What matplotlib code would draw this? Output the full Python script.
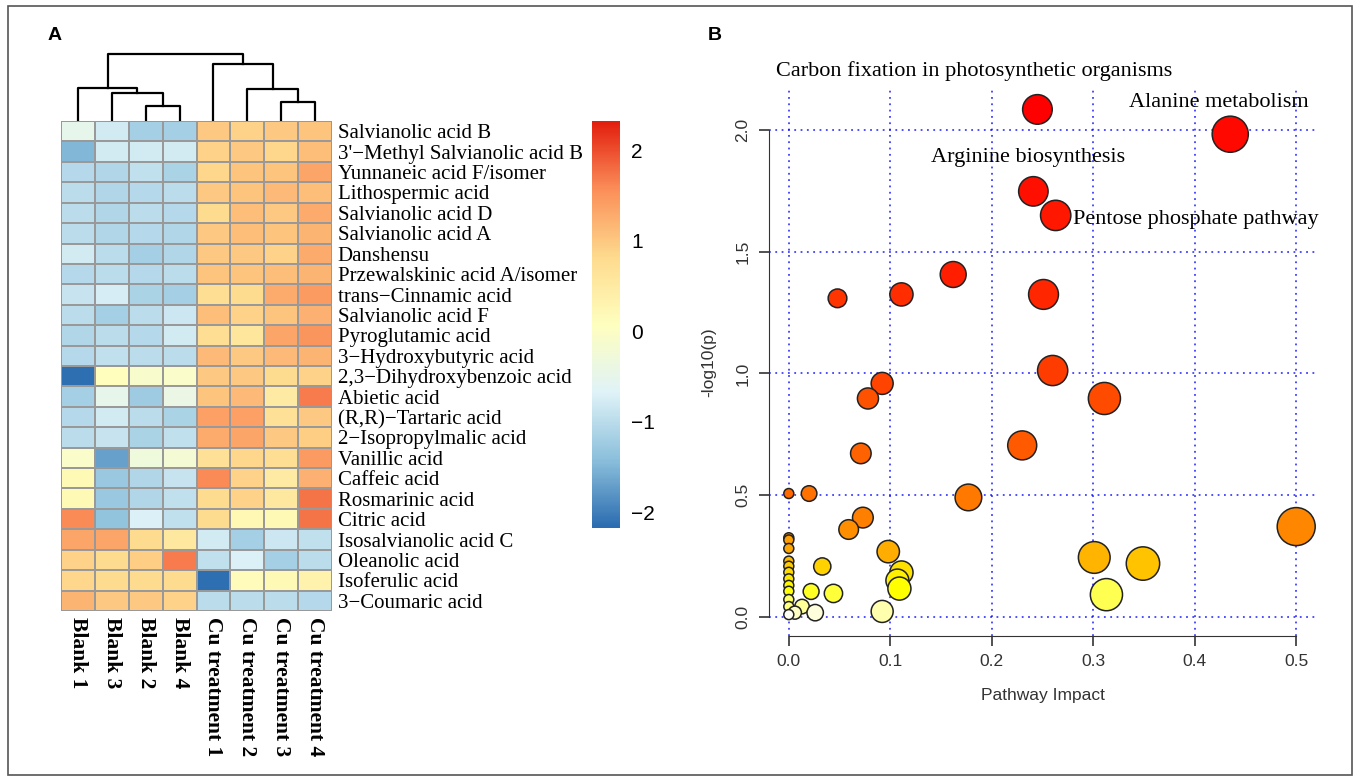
import numpy as np
import matplotlib
matplotlib.use("Agg")
import matplotlib.pyplot as plt
from matplotlib.colors import LinearSegmentedColormap, hsv_to_rgb
from matplotlib.patches import Rectangle

# ---- panel A data ----
compounds = ["Salvianolic acid B", "3'\u2212Methyl Salvianolic acid B", "Yunnaneic acid F/isomer",
             "Lithospermic acid", "Salvianolic acid D", "Salvianolic acid A", "Danshensu",
             "Przewalskinic acid A/isomer", "trans\u2212Cinnamic acid", "Salvianolic acid F",
             "Pyroglutamic acid", "3\u2212Hydroxybutyric acid", "2,3\u2212Dihydroxybenzoic acid",
             "Abietic acid", "(R,R)\u2212Tartaric acid", "2\u2212Isopropylmalic acid", "Vanillic acid",
             "Caffeic acid", "Rosmarinic acid", "Citric acid", "Isosalvianolic acid C",
             "Oleanolic acid", "Isoferulic acid", "3\u2212Coumaric acid"]
samples = ["Blank 1", "Blank 3", "Blank 2", "Blank 4",
           "Cu treatment 1", "Cu treatment 2", "Cu treatment 3", "Cu treatment 4"]
zscores = [
    [-0.5, -0.8, -1.2, -1.2, 1.0, 0.9, 1.0, 1.05],
    [-1.5, -0.8, -0.8, -0.8, 0.9, 1.0, 0.85, 1.1],
    [-1.05, -1.1, -0.95, -1.15, 0.85, 1.05, 1.05, 1.35],
    [-1.0, -1.1, -1.05, -1.0, 1.0, 1.05, 1.15, 1.1],
    [-1.0, -1.1, -1.0, -1.05, 0.8, 1.1, 1.0, 1.3],
    [-1.0, -1.1, -1.05, -1.1, 1.0, 1.1, 1.05, 1.2],
    [-0.8, -1.0, -1.2, -1.1, 1.0, 1.0, 0.9, 1.3],
    [-1.05, -1.0, -1.05, -1.0, 1.05, 1.05, 1.1, 1.2],
    [-0.9, -0.75, -1.15, -1.2, 0.75, 0.8, 1.3, 1.45],
    [-1.0, -1.2, -1.0, -0.85, 1.1, 0.9, 1.05, 1.25],
    [-1.1, -1.0, -1.05, -0.8, 0.75, 0.6, 1.35, 1.5],
    [-1.05, -0.95, -1.0, -1.0, 1.15, 1.0, 1.15, 1.2],
    [-2.15, 0.1, -0.1, -0.05, 1.0, 1.0, 0.8, 0.9],
    [-1.2, -0.5, -1.25, -0.4, 1.05, 1.15, 0.5, 1.7],
    [-1.05, -0.8, -1.0, -1.15, 1.4, 1.4, 0.7, 1.0],
    [-1.0, -0.9, -1.15, -0.95, 1.3, 1.35, 1.0, 0.95],
    [-0.05, -1.7, -0.3, -0.2, 0.7, 0.85, 0.75, 1.45],
    [0.2, -1.3, -1.1, -0.9, 1.6, 0.9, 0.5, 1.25],
    [0.2, -1.3, -1.1, -0.95, 0.8, 0.9, 0.55, 1.75],
    [1.6, -1.35, -0.7, -0.95, 0.8, 0.25, 0.2, 1.75],
    [1.35, 1.35, 0.8, 0.55, -0.8, -1.2, -0.85, -0.95],
    [0.9, 0.8, 0.95, 1.7, -0.95, -0.7, -1.2, -1.0],
    [0.85, 0.8, 0.8, 0.8, -2.15, 0.15, 0.2, 0.35],
    [1.2, 1.0, 1.0, 0.9, -1.0, -1.0, -1.0, -1.05],
]
# column dendrogram: (left node, right node, height); leaves 0-7, new nodes 8..
col_merges = [(2, 3, 15), (1, 8, 28), (0, 9, 33), (6, 7, 19), (5, 11, 32), (4, 12, 57), (10, 13, 67)]
cbar_ticks = [2, 1, 0, -1, -2]
vmin, vmax = -2.17, 2.32

# ---- panel B data ----
impact = [0.245, 0.435, 0.241, 0.263, 0.162, 0.251, 0.111, 0.048, 0.260, 0.092, 0.311, 0.078,
          0.230, 0.071, 0.0, 0.020, 0.177, 0.073, 0.500, 0.059, 0.0, 0.0, 0.0, 0.098, 0.301,
          0.349, 0.033, 0.0, 0.0, 0.0, 0.0, 0.0, 0.0, 0.0, 0.0, 0.0, 0.111, 0.107, 0.109,
          0.313, 0.022, 0.044, 0.013, 0.006, 0.026, 0.092]
neglogp = [2.086, 1.984, 1.749, 1.650, 1.407, 1.325, 1.325, 1.309, 1.012, 0.959, 0.897, 0.897,
           0.704, 0.671, 0.506, 0.506, 0.490, 0.407, 0.370, 0.358, 0.324, 0.315, 0.280, 0.267,
           0.243, 0.218, 0.206, 0.228, 0.207, 0.182, 0.155, 0.128, 0.104, 0.070, 0.041, 0.008,
           0.181, 0.148, 0.115, 0.090, 0.103, 0.095, 0.041, 0.016, 0.016, 0.021]
path_labels = ["Carbon fixation in photosynthetic organisms", "Alanine metabolism",
               "Arginine biosynthesis", "Pentose phosphate pathway"]
label_x = [0.183, 0.424, 0.236, 0.280]
label_y = [2.243, 2.115, 1.889, 1.634]
label_ha = ["center", "center", "center", "left"]

W, H = 1360, 781
SERIF = ["Liberation Serif", "DejaVu Serif"]
SANS = ["Liberation Sans", "DejaVu Sans"]


def px_axes(fig, x0, y0, x1, y1):
    return fig.add_axes([x0 / W, 1 - y1 / H, (x1 - x0) / W, (y1 - y0) / H])


def heat_colors(n):
    # same as R's heat.colors(n)
    j = n // 4
    i = n - j
    cols = [hsv_to_rgb((h, 1, 1)) for h in np.linspace(0, 1 / 6, i)]
    if j > 0:
        for s in np.linspace(1 - 1 / (2 * j), 1 / (2 * j), j):
            cols.append(hsv_to_rgb((1 / 6, s, 1)))
    return cols


fig = plt.figure(figsize=(W / 100, H / 100), dpi=100)

# ---- heatmap ----
cmap = LinearSegmentedColormap.from_list(
    "rdylbu", ["#2C6DB1", "#8CC0DC", "#E0F3F8", "#FFFFBF", "#FEDB8E", "#FB8F5A", "#E3200F"])
mat = np.array(zscores)
ax = px_axes(fig, 61, 121, 332, 611)
ax.pcolormesh(np.arange(9), np.arange(25), mat, cmap=cmap, vmin=vmin, vmax=vmax,
              edgecolors="#999999", linewidth=1.2)
ax.set_xlim(0, 8)
ax.set_ylim(24, 0)
for sp in ax.spines.values():
    sp.set_visible(False)
ax.yaxis.tick_right()
ax.set_yticks(np.arange(24) + 0.5)
ax.set_yticklabels(compounds, family=SERIF, fontsize=15)
ax.set_xticks(np.arange(8) + 0.5)
ax.set_xticklabels(samples, family=SERIF, fontsize=15.5, fontweight="bold", rotation=-90,
                   va="top", ha="center")
ax.tick_params(length=0, pad=4)

# ---- dendrogram ----
dax = px_axes(fig, 61, 52, 332, 121)
pos = {k: k + 0.5 for k in range(8)}
hgt = {k: 0 for k in range(8)}
for n, (a, b, h) in enumerate(col_merges):
    node = 8 + n
    dax.plot([pos[a], pos[a], pos[b], pos[b]], [hgt[a], h, h, hgt[b]], color="black", lw=1.6)
    pos[node] = (pos[a] + pos[b]) / 2
    hgt[node] = h
dax.set_xlim(0, 8)
dax.set_ylim(0, 69)
dax.axis("off")

# ---- colour key ----
cax = px_axes(fig, 592, 121, 620, 528)
grad = np.linspace(vmin, vmax, 300).reshape(-1, 1)
cax.imshow(grad, cmap=cmap, vmin=vmin, vmax=vmax, aspect="auto", origin="lower",
           extent=(0, 1, vmin, vmax))
for sp in cax.spines.values():
    sp.set_visible(False)
cax.set_xticks([])
cax.yaxis.tick_right()
cax.set_yticks(cbar_ticks)
cax.set_yticklabels([str(t).replace("-", "\u2212") for t in cbar_ticks], family=SANS, fontsize=15)
cax.tick_params(length=0, pad=8)

# ---- pathway bubble plot ----
bx = px_axes(fig, 768.5, 89, 1316.5, 635.5)
order = np.argsort(-np.array(neglogp), kind="stable")
x = np.array(impact)[order]
y = np.array(neglogp)[order]
colors = heat_colors(len(y))
r_px = 5 + 19.8 * np.sqrt(x)
sizes = (2 * r_px * 0.72) ** 2
bx.set_xlim(-0.02, 0.52)
bx.set_ylim(-0.078, 2.17)
for v in [0, 0.1, 0.2, 0.3, 0.4, 0.5]:
    bx.axvline(v, color="blue", ls=(0, (1, 2.5)), lw=1.3, alpha=0.75, zorder=1)
for v in [0, 0.5, 1.0, 1.5, 2.0]:
    bx.axhline(v, color="blue", ls=(0, (1, 2.5)), lw=1.3, alpha=0.75, zorder=1)
bx.scatter(x, y, s=sizes, c=colors, edgecolors="#222222", linewidths=1.1, zorder=3, clip_on=False)
for t, lx, ly, ha in zip(path_labels, label_x, label_y, label_ha):
    bx.text(lx, ly, t, ha=ha, va="center", family=SERIF, fontsize=16, zorder=4, clip_on=False)
for s in ["top", "right"]:
    bx.spines[s].set_visible(False)
bx.spines["left"].set_bounds(0, 2.0)
bx.spines["bottom"].set_bounds(0, 0.5)
bx.spines["left"].set_color("#333333")
bx.spines["bottom"].set_color("#333333")
bx.set_xticks([0, 0.1, 0.2, 0.3, 0.4, 0.5])
bx.set_xticklabels(["0.0", "0.1", "0.2", "0.3", "0.4", "0.5"], family=SANS, fontsize=12.5, color="#333333")
bx.set_yticks([0, 0.5, 1.0, 1.5, 2.0])
bx.set_yticklabels(["0.0", "0.5", "1.0", "1.5", "2.0"], family=SANS, fontsize=12.5, color="#333333",
                   rotation=90, va="center")
bx.tick_params(direction="out", length=7, width=1.2, color="#333333", pad=6)
bx.set_xlabel("Pathway Impact", family=SANS, fontsize=12.5, color="#333333", labelpad=14)
bx.set_ylabel("-log10(p)", family=SANS, fontsize=12.5, color="#333333", labelpad=14)

# ---- panel letters and frame ----
fig.text(48 / W, 1 - 35 / H, "A", family=SANS, fontsize=14, fontweight="bold", va="center", ha="left")
fig.text(708 / W, 1 - 35 / H, "B", family=SANS, fontsize=14, fontweight="bold", va="center", ha="left")
fig.patches.append(Rectangle((8 / W, 6 / H), 1344 / W, 769 / H, transform=fig.transFigure,
                             fill=False, ec="#555555", lw=1.2))

fig.savefig("out.png", dpi=100)
